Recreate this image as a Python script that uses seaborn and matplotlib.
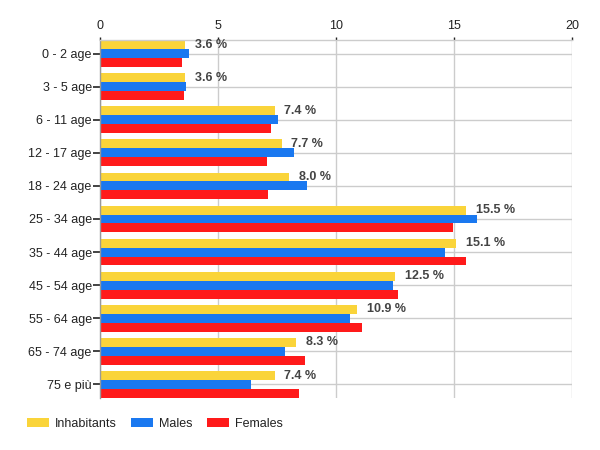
import matplotlib
matplotlib.use("Agg")
import matplotlib.pyplot as plt
import seaborn as sns
import pandas as pd

categories = ["0 - 2 age", "3 - 5 age", "6 - 11 age", "12 - 17 age", "18 - 24 age",
              "25 - 34 age", "35 - 44 age", "45 - 54 age", "55 - 64 age",
              "65 - 74 age", "75 e più"]
inhabitants = [3.6, 3.6, 7.4, 7.7, 8.0, 15.5, 15.1, 12.5, 10.9, 8.3, 7.4]
males = [3.76, 3.63, 7.54, 8.2, 8.76, 15.98, 14.6, 12.4, 10.6, 7.83, 6.4]
females = [3.47, 3.58, 7.23, 7.06, 7.1, 14.96, 15.5, 12.62, 11.1, 8.68, 8.42]
series = ["Inhabitants", "Males", "Females"]
colors = ["#FAD43A", "#1A78F0", "#FF1A1A"]
xticks = [0, 5, 10, 15, 20]

sns.set_theme(style="white")
plt.rcParams["font.family"] = ["Liberation Sans", "DejaVu Sans"]

rows = []
for s, vals in zip(series, [inhabitants, males, females]):
    for c, v in zip(categories, vals):
        rows.append({"age": c, "value": v, "series": s})
df = pd.DataFrame(rows)

fig = plt.figure(figsize=(6, 4.5), dpi=100)
ax = fig.add_axes([100 / 600, 1 - 398 / 450, 472 / 600, 358 / 450])

sns.barplot(data=df, x="value", y="age", hue="series", order=categories,
            hue_order=series, palette=colors, orient="h", width=0.81,
            saturation=1, errorbar=None, ax=ax, legend=True,
            linewidth=0, edgecolor="none")

ax.set_xlim(0, 20)
ax.set_ylim(10.41, -0.41)
ax.set_xticks(xticks)
ax.xaxis.tick_top()
ax.set_xlabel("")
ax.set_ylabel("")
ax.set_axisbelow(True)
ax.grid(True, color="#cccccc", linewidth=1)
for side in ["right", "bottom"]:
    ax.spines[side].set_visible(False)
ax.spines["top"].set_color("#cccccc")
ax.spines["top"].set_linewidth(1)
ax.spines["left"].set_color("#999999")
ax.spines["left"].set_linewidth(1)
ax.tick_params(axis="x", top=True, length=2.5, width=1, color="#222222",
               pad=3.5, labelsize=9, labelcolor="#222222")
ax.tick_params(axis="y", left=True, length=5, width=1.2, color="#222222",
               pad=1, labelsize=9, labelcolor="#222222")

for i, v in enumerate(inhabitants):
    ax.annotate(f"{v:.1f} %", xy=(v, i - 0.27), xytext=(7, 0),
                textcoords="offset points", va="center", ha="left",
                fontsize=9, fontweight="bold", color="#444444")

handles, labels = ax.get_legend_handles_labels()
for h in handles:
    h.set_linewidth(0)
    h.set_edgecolor("none")
ax.legend(handles, labels, loc="center left",
          bbox_to_anchor=(27 / 600, 1 - 424 / 450), bbox_transform=fig.transFigure,
          ncol=3, frameon=False, fontsize=9, borderpad=0, borderaxespad=0,
          handlelength=1.75, handleheight=0.65, handletextpad=0.45,
          columnspacing=1.2, labelcolor="#222222")

fig.savefig("out.png", dpi=100)
